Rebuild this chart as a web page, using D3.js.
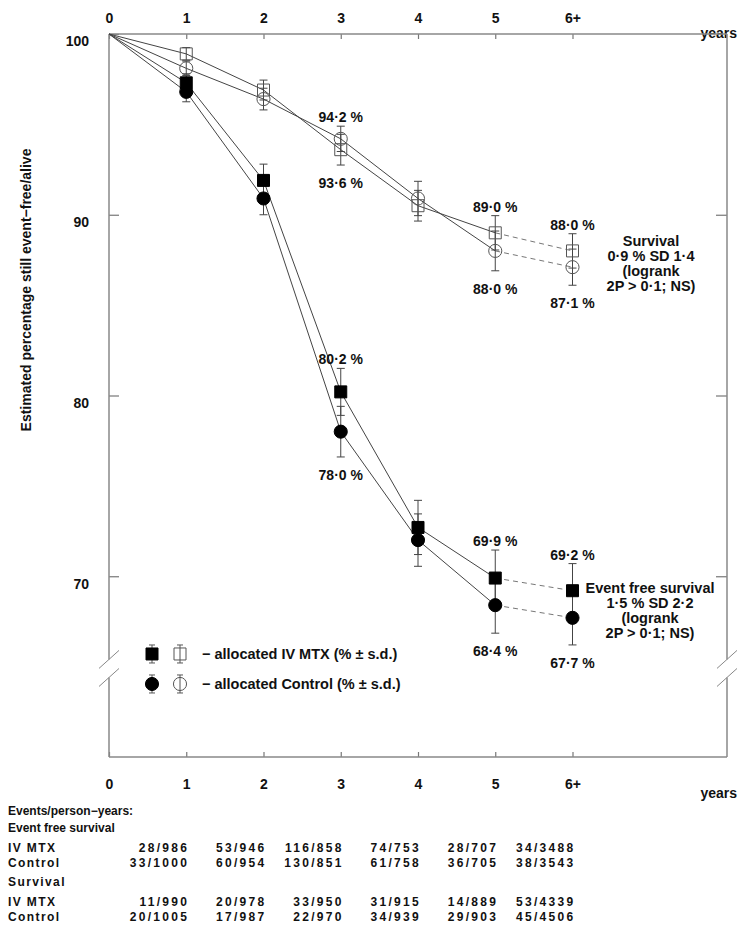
<!DOCTYPE html>
<html>
<head>
<meta charset="utf-8">
<script src="https://cdn.jsdelivr.net/npm/d3@7/dist/d3.min.js"></script>
<style>
  * { margin: 0; padding: 0; }
  body { background: white; }
  svg text { font-family: "Liberation Sans", Arial, sans-serif; font-weight: bold; fill: #111; }
  .axis path.domain { display: none; }
  .axis line { stroke: #777; stroke-width: 1.2; }
  .axis text { font-size: 14px; }
  .table text { font-size: 12px; }
</style>
</head>
<body>
<svg id="chart" width="750" height="935"></svg>
<script>
// time points (6 = "6+")
const years = [0, 1, 2, 3, 4, 5, 6];
const yearLabels = ["0", "1", "2", "3", "4", "5", "6+"];
const yTicks = [100, 90, 80, 70];

// event free survival
const efsMtx = [100, 97.3, 91.9, 80.2, 72.7, 69.9, 69.2];
const efsMtxSd = [0, 0.5, 0.9, 1.3, 1.5, 1.55, 1.5];
const efsCtl = [100, 96.8, 90.9, 78.0, 72.0, 68.4, 67.7];
const efsCtlSd = [0, 0.55, 0.9, 1.4, 1.45, 1.55, 1.5];
// survival
const osMtx = [100, 98.9, 96.9, 93.6, 90.5, 89.0, 88.0];
const osMtxSd = [0, 0.35, 0.55, 0.85, 0.85, 0.95, 0.95];
const osCtl = [100, 98.1, 96.4, 94.2, 90.9, 88.0, 87.1];
const osCtlSd = [0, 0.4, 0.6, 0.7, 0.95, 1.1, 1.0];

// points that carry a percentage label
const labelledYears = [3, 5, 6];

const survivalNote = ["Survival", "0·9 % SD 1·4", "(logrank", "2P > 0·1; NS)"];
const efsNote = ["Event free survival", "1·5 % SD 2·2", "(logrank", "2P > 0·1; NS)"];

// events / person-years table
const efsMtxEvents = ["28/986", "53/946", "116/858", "74/753", "28/707", "34/3488"];
const efsCtlEvents = ["33/1000", "60/954", "130/851", "61/758", "36/705", "38/3543"];
const osMtxEvents = ["11/990", "20/978", "33/950", "31/915", "14/889", "53/4339"];
const osCtlEvents = ["20/1005", "17/987", "22/970", "34/939", "29/903", "45/4506"];

const w = 750, h = 935;
const m = { left: 109, top: 34, right: 23, bottom: 178 };
const pw = w - m.left - m.right;
const ph = h - m.top - m.bottom;

const x = d3.scaleLinear().domain([0, 8]).range([m.left, m.left + pw]);
const y = d3.scaleLinear().domain([60, 100]).range([m.top + ph, m.top]);

const svg = d3.select("#chart");

const series = [
  { v: osMtx, sd: osMtxSd, shape: d3.symbolSquare, size: 144, filled: false },
  { v: osCtl, sd: osCtlSd, shape: d3.symbolCircle, size: 135, filled: false },
  { v: efsMtx, sd: efsMtxSd, shape: d3.symbolSquare, size: 144, filled: true },
  { v: efsCtl, sd: efsCtlSd, shape: d3.symbolCircle, size: 135, filled: true }
];

// axes
svg.append("g").attr("class", "axis")
  .attr("transform", "translate(0," + m.top + ")")
  .call(d3.axisTop(x).tickValues(years).tickFormat(i => yearLabels[i]).tickSize(-5).tickPadding(11));

svg.append("g").attr("class", "axis")
  .attr("transform", "translate(0," + (m.top + ph) + ")")
  .call(d3.axisBottom(x).tickValues(years).tickFormat(i => yearLabels[i]).tickSize(-5).tickPadding(22));

svg.append("g").attr("class", "axis")
  .attr("transform", "translate(" + m.left + ",0)")
  .call(d3.axisLeft(y).tickValues(yTicks).tickSize(-10).tickPadding(20))
  .selectAll("text").attr("dy", "0.85em");

svg.append("g").attr("class", "axis")
  .attr("transform", "translate(" + (m.left + pw) + ",0)")
  .call(d3.axisRight(y).tickValues(yTicks.slice(1)).tickSize(-11).tickFormat(""));

svg.selectAll(".years").data([m.top + 4, m.top + ph + 41]).enter()
  .append("text").attr("class", "years")
  .attr("x", w - 13).attr("y", d => d)
  .attr("text-anchor", "end").attr("font-size", 14).text("years");

// frame with axis breaks
const breakA = y(65.4), breakB = y(64.4);
const frame = svg.append("g").attr("stroke", "#888").attr("stroke-width", 1.5).attr("fill", "none");
const xl = m.left, xr = m.left + pw, yt = m.top, yb = m.top + ph;
[[xl, yt, xr, yt], [xl, yb, xr, yb],
 [xl, yt, xl, breakA], [xl, breakB, xl, yb],
 [xr, yt, xr, breakA], [xr, breakB, xr, yb]].forEach(s => {
  frame.append("line").attr("x1", s[0]).attr("y1", s[1]).attr("x2", s[2]).attr("y2", s[3]);
});
[xl, xr].forEach(px => {
  [breakA, breakB].forEach(py => {
    frame.append("line").attr("stroke-width", 1)
      .attr("x1", px - 10).attr("y1", py + 9).attr("x2", px + 10).attr("y2", py - 9);
  });
});

svg.append("text")
  .attr("transform", "translate(31," + (m.top + 256) + ") rotate(-90)")
  .attr("text-anchor", "middle").attr("font-size", 14)
  .text("Estimated percentage still event\u2212free/alive");

// connecting lines
const line = d3.line().x((d, i) => x(d[0])).y(d => y(d[1]));
series.forEach(s => {
  const pts = years.map((yr, i) => [yr, s.v[i]]);
  svg.append("path").attr("d", line(pts.slice(0, 6)))
    .attr("fill", "none").attr("stroke", "#444").attr("stroke-width", 1);
  svg.append("path").attr("d", line(pts.slice(5)))
    .attr("fill", "none").attr("stroke", "#777").attr("stroke-width", 1)
    .attr("stroke-dasharray", "5,4");
});

// error bars
series.forEach(s => {
  const g = svg.append("g").attr("stroke", "#444").attr("stroke-width", 1);
  years.slice(1).forEach(yr => {
    const cx = x(yr), lo = y(s.v[yr] - s.sd[yr]), hi = y(s.v[yr] + s.sd[yr]);
    g.append("line").attr("x1", cx).attr("x2", cx).attr("y1", lo).attr("y2", hi);
    g.append("line").attr("x1", cx - 4).attr("x2", cx + 4).attr("y1", lo).attr("y2", lo);
    g.append("line").attr("x1", cx - 4).attr("x2", cx + 4).attr("y1", hi).attr("y2", hi);
  });
});

// markers
series.forEach(s => {
  svg.append("g").selectAll("path").data(years.slice(1)).enter()
    .append("path")
    .attr("transform", yr => "translate(" + x(yr) + "," + y(s.v[yr]) + ")")
    .attr("d", d3.symbol().type(s.shape).size(s.size))
    .attr("fill", s.filled ? "#000" : "none")
    .attr("stroke", s.filled ? "#000" : "#555")
    .attr("stroke-width", 1);
});

// percentage labels
const fmt = v => v.toFixed(1).replace(".", "\u00b7") + " %";
[[series[0], series[1]], [series[2], series[3]]].forEach(pair => {
  labelledYears.forEach(yr => {
    const [a, b] = pair;
    const top = a.v[yr] >= b.v[yr] ? a : b;
    const bot = top === a ? b : a;
    svg.append("text").attr("x", x(yr)).attr("y", y(top.v[yr] + top.sd[yr]) - 4)
      .attr("text-anchor", "middle").attr("font-size", 14).text(fmt(top.v[yr]));
    svg.append("text").attr("x", x(yr)).attr("y", y(bot.v[yr] - bot.sd[yr]) + 23)
      .attr("text-anchor", "middle").attr("font-size", 14).text(fmt(bot.v[yr]));
  });
});

// notes
function note(lines, cx, y0) {
  const t = svg.append("text").attr("text-anchor", "middle").attr("font-size", 14.5);
  lines.forEach((l, i) => {
    t.append("tspan").attr("x", cx).attr("y", y0 + i * 15).text(l);
  });
}
note(survivalNote, 651, 246);
note(efsNote, 650, 593);

// legend
const legend = svg.append("g").attr("transform", "translate(" + (m.left + 43) + "," + y(65.7) + ")");
const legRows = [
  { shape: d3.symbolSquare, size: 144, text: "\u2212 allocated IV MTX (% \u00b1 s.d.)" },
  { shape: d3.symbolCircle, size: 135, text: "\u2212 allocated Control (% \u00b1 s.d.)" }
];
legRows.forEach((r, i) => {
  const g = legend.append("g").attr("transform", "translate(0," + i * 30 + ")");
  [0, 28].forEach((dx, j) => {
    g.append("line").attr("x1", dx).attr("x2", dx).attr("y1", -9).attr("y2", 9)
      .attr("stroke", "#555").attr("stroke-width", 1);
    [-9, 9].forEach(cy => g.append("line").attr("x1", dx - 3).attr("x2", dx + 3)
      .attr("y1", cy).attr("y2", cy).attr("stroke", "#555"));
    g.append("path").attr("transform", "translate(" + dx + ",0)")
      .attr("d", d3.symbol().type(r.shape).size(r.size))
      .attr("fill", j === 0 ? "#000" : "none")
      .attr("stroke", j === 0 ? "#000" : "#555");
  });
  g.append("text").attr("x", 50).attr("y", 5).attr("font-size", 14.5).text(r.text);
});

// table
const table = svg.append("g").attr("class", "table");
const ty = m.top + ph;
const tableRows = [
  { label: "Events/person\u2212years:", y: ty + 58, spaced: false },
  { label: "Event free survival", y: ty + 75, spaced: false },
  { label: "IV MTX", y: ty + 95, spaced: true, cells: efsMtxEvents },
  { label: "Control", y: ty + 110, spaced: true, cells: efsCtlEvents },
  { label: "Survival", y: ty + 129, spaced: true },
  { label: "IV MTX", y: ty + 149, spaced: true, cells: osMtxEvents },
  { label: "Control", y: ty + 164, spaced: true, cells: osCtlEvents }
];
tableRows.forEach(r => {
  table.append("text").attr("x", 8).attr("y", r.y)
    .attr("letter-spacing", r.spaced ? 1.4 : 0).text(r.label);
  if (r.cells) {
    r.cells.forEach((c, i) => {
      table.append("text").attr("x", x(i + 1) + 3).attr("y", r.y)
        .attr("text-anchor", "end").attr("letter-spacing", 2.3).text(c);
    });
  }
});
</script>
</body>
</html>
